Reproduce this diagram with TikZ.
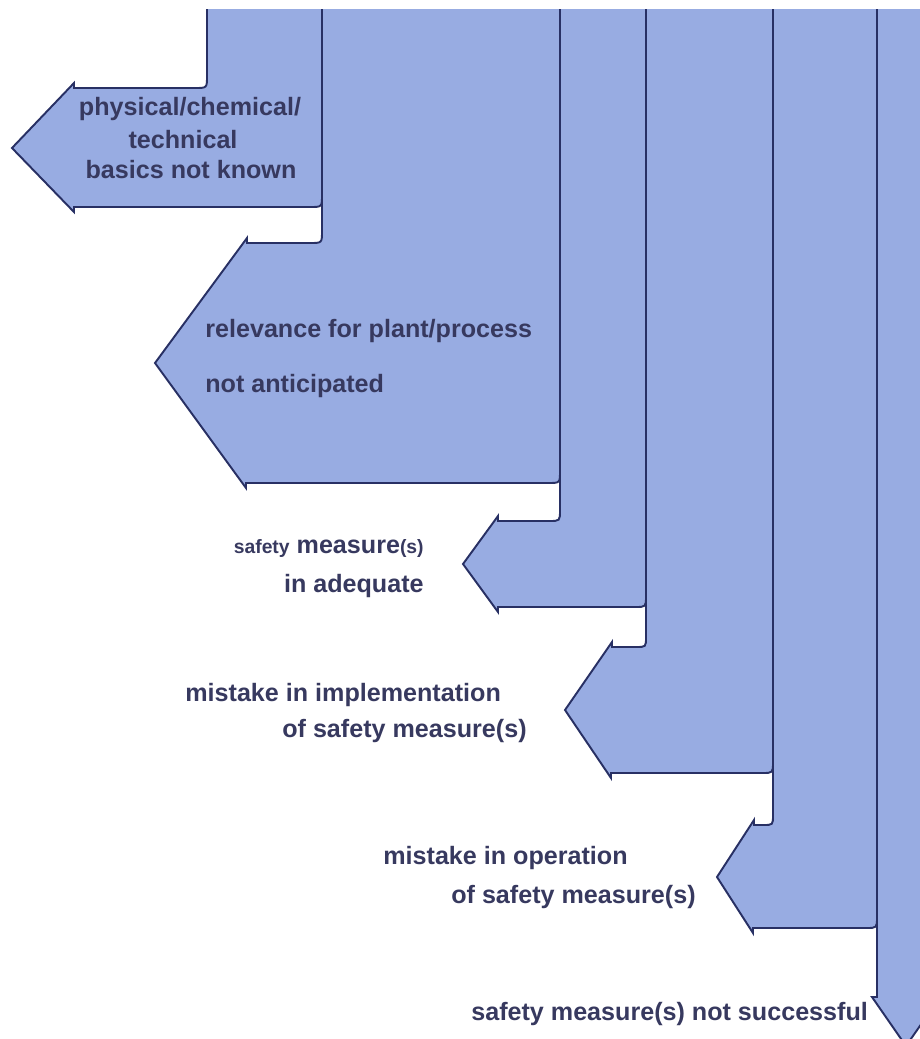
\documentclass[tikz,border=0pt]{standalone}
\usepackage{fontspec}
\setmainfont{Liberation Sans}
\usetikzlibrary{positioning}
\definecolor{bandblue}{RGB}{152,172,226}
\definecolor{edgeblue}{RGB}{40,48,100}
\definecolor{labelc}{RGB}{55,57,95}

\begin{document}
\begin{tikzpicture}[x=0.02cm,y=-0.02cm,
    band/.style={draw=edgeblue, fill=bandblue, line width=1.1pt, line join=miter},
    lbl/.style={text=labelc, inner sep=0pt, font=\fontsize{14.3}{17}\selectfont\bfseries}]
    \clip (0,0) rectangle (920,1039);
    % the bands, each turning into an arrow
    \draw[band] (207,9) -- (207,76) .. controls (207,88) .. (195,88) -- (74,88) -- (74,83) -- (12,148)
        -- (74,212) -- (74,207) -- (310,207) .. controls (322,207) .. (322,195) -- (322,9);
    \draw[band] (322,9) -- (322,231) .. controls (322,243) .. (310,243) -- (247,243) -- (247,238) -- (155,363)
        -- (246,488) -- (246,483) -- (548,483) .. controls (560,483) .. (560,471) -- (560,9);
    \draw[band] (560,9) -- (560,510) .. controls (560,521) .. (549,521) -- (498,521) -- (498,516) -- (463,564)
        -- (498,612) -- (498,607) -- (635,607) .. controls (646,607) .. (646,596) -- (646,9);
    \draw[band] (646,9) -- (646,637) .. controls (646,647) .. (636,647) -- (612,647) -- (612,642) -- (565,710)
        -- (611,778) -- (611,773) -- (762,773) .. controls (773,773) .. (773,762) -- (773,9);
    \draw[band] (773,9) -- (773,815) .. controls (773,825) .. (763,825) -- (754,825) -- (754,820) -- (717,877)
        -- (753,933) -- (753,928) -- (866,928) .. controls (877,928) .. (877,917) -- (877,9);
    \draw[band] (877,9) -- (877,997) -- (872,997) -- (906,1046) -- (940,997) -- (935,997) -- (935,9);

    % labels
    \node[lbl, anchor=base] (t1a) at (190,115) {physical/chemical/};
    \node[lbl, anchor=base] (t1b) at (183,148) {technical};
    \node[lbl, anchor=base] (t1c) at (191,178) {basics not known};
    \node[lbl, anchor=base west] (t2a) at (205,337) {relevance for plant/process};
    \node[lbl, anchor=base west] (t2b) at (205,392) {not anticipated};
    \node[lbl, anchor=base east] (t3a) at (424,553) {{\fontsize{11}{13}\selectfont safety} measure{\fontsize{11}{13}\selectfont (s)}};
    \node[lbl, anchor=base east] (t3b) at (424,592) {in adequate};
    \node[lbl, anchor=base west] (t4a) at (185,701) {mistake in implementation};
    \node[lbl, anchor=base west] (t4b) at (282,737) {of safety measure(s)};
    \node[lbl, anchor=base west] (t5a) at (383,864) {mistake in operation};
    \node[lbl, anchor=base west] (t5b) at (451,903) {of safety measure(s)};
    \node[lbl, anchor=base west] (t6) at (471,1020) {safety measure(s) not successful};
\end{tikzpicture}
\end{document}
